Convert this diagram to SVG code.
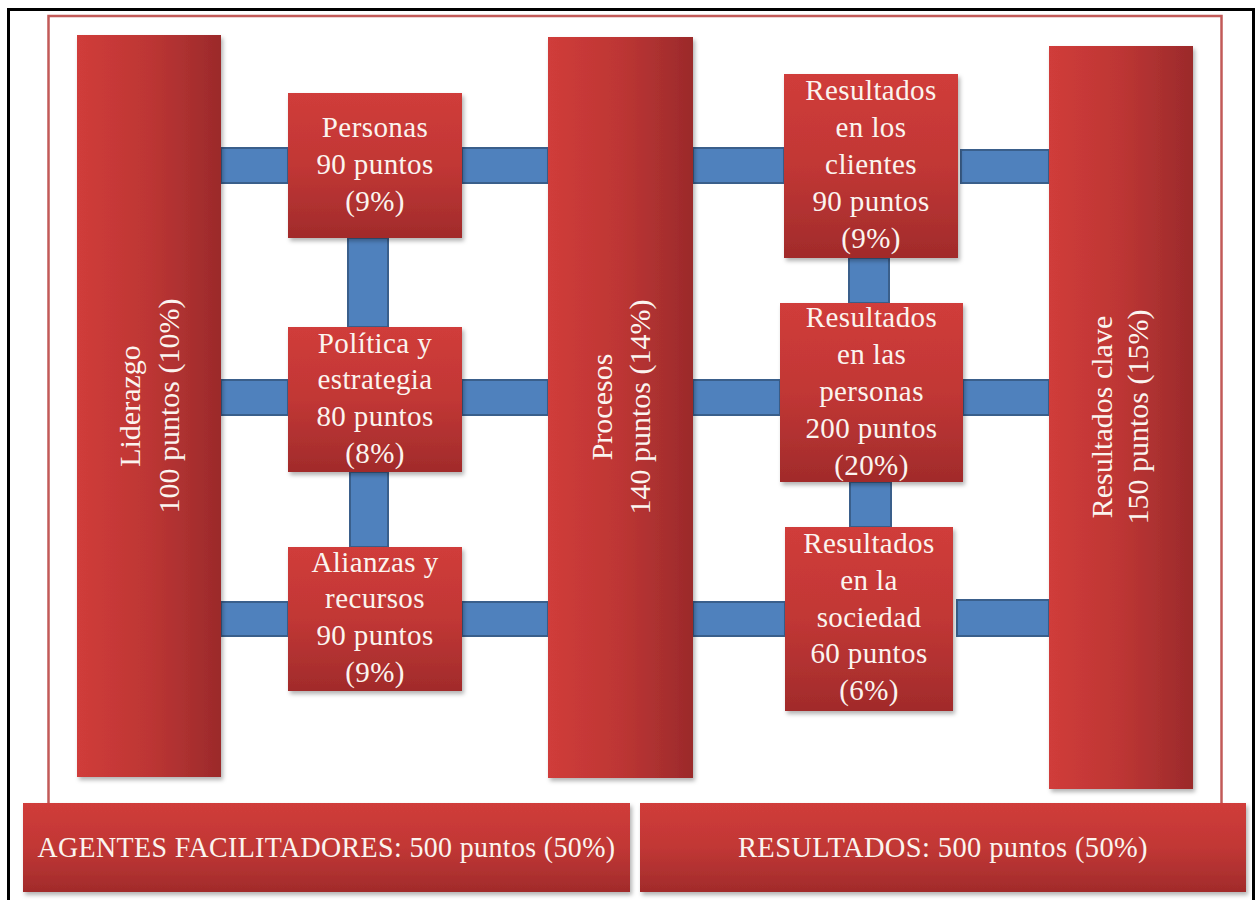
<svg xmlns="http://www.w3.org/2000/svg" width="1256" height="900" viewBox="0 0 1256 900">
  <defs>
    <linearGradient id="gBar" x1="0" y1="0" x2="1" y2="0">
      <stop offset="0" stop-color="#d03c3a"/>
      <stop offset="0.5" stop-color="#bd3634"/>
      <stop offset="1" stop-color="#9b2a2b"/>
    </linearGradient>
    <linearGradient id="gBox" x1="0" y1="0" x2="0" y2="1">
      <stop offset="0" stop-color="#d03c3a"/>
      <stop offset="0.5" stop-color="#c13735"/>
      <stop offset="1" stop-color="#a12b2b"/>
    </linearGradient>
    <filter id="shadow" x="-10%" y="-10%" width="130%" height="130%">
      <feDropShadow dx="2" dy="3" stdDeviation="2" flood-color="#000" flood-opacity="0.3"/>
    </filter>
    <style>
      .bar { fill: url(#gBar); filter: url(#shadow); }
      .box { fill: url(#gBox); filter: url(#shadow); }
      .link { fill: #4f81bd; stroke: #3a5f8b; stroke-width: 2; }
      .lbl { font-family: "Liberation Serif", "Times New Roman", serif; font-size: 29px; letter-spacing: 0.4px; fill: #fbf4ef; text-anchor: middle; }
      .vlbl { font-family: "Liberation Serif", "Times New Roman", serif; font-size: 30px; fill: #fbf4ef; text-anchor: middle; }
    </style>
  </defs>

  <rect x="0" y="0" width="1256" height="900" fill="#ffffff"/>

  <!-- outer border -->
  <path d="M8.5 902 V9.5 H1253.5 V902" fill="none" stroke="#000" stroke-width="3"/>
  <!-- inner frame, open at the bottom where the summary bars sit -->
  <path d="M48.5 803 V16 H1221.5 V803" fill="none" stroke="#c25a58" stroke-width="2.5"/>

  <!-- connectors -->
  <g id="connectors">
    <rect class="link" x="221" y="148" width="67" height="35"/>
    <rect class="link" x="462" y="148" width="86" height="35"/>
    <rect class="link" x="693" y="148" width="91" height="35"/>
    <rect class="link" x="961" y="150" width="88" height="33"/>

    <rect class="link" x="221" y="380" width="67" height="35"/>
    <rect class="link" x="462" y="380" width="86" height="35"/>
    <rect class="link" x="693" y="380" width="87" height="35"/>
    <rect class="link" x="963" y="380" width="86" height="35"/>

    <rect class="link" x="221" y="602" width="67" height="34"/>
    <rect class="link" x="462" y="602" width="86" height="34"/>
    <rect class="link" x="693" y="602" width="92" height="34"/>
    <rect class="link" x="957" y="600" width="92" height="36"/>

    <rect class="link" x="348" y="238" width="40" height="89"/>
    <rect class="link" x="350" y="472" width="38" height="75"/>
    <rect class="link" x="849" y="258" width="40" height="45"/>
    <rect class="link" x="850" y="482" width="41" height="45"/>
  </g>

  <!-- tall columns -->
  <g id="liderazgo">
    <rect class="bar" x="77" y="35" width="144" height="742"/>
    <g transform="translate(149 406) rotate(-90)">
      <text class="vlbl" x="0" y="-9">Liderazgo</text>
      <text class="vlbl" x="0" y="30">100 puntos (10%)</text>
    </g>
  </g>

  <g id="procesos">
    <rect class="bar" x="548" y="37" width="145" height="741"/>
    <g transform="translate(620.5 407) rotate(-90)">
      <text class="vlbl" x="0" y="-9">Procesos</text>
      <text class="vlbl" x="0" y="29">140 puntos (14%)</text>
    </g>
  </g>

  <g id="resultados-clave">
    <rect class="bar" x="1049" y="46" width="144" height="743"/>
    <g transform="translate(1121 417) rotate(-90)">
      <text class="vlbl" x="0" y="-9">Resultados clave</text>
      <text class="vlbl" x="0" y="27">150 puntos (15%)</text>
    </g>
  </g>

  <!-- enabler boxes -->
  <g id="personas">
    <rect class="box" x="288" y="93" width="174" height="145"/>
    <text class="lbl" x="375" y="137">Personas</text>
    <text class="lbl" x="375" y="174">90 puntos</text>
    <text class="lbl" x="375" y="211">(9%)</text>
  </g>

  <g id="politica">
    <rect class="box" x="288" y="327" width="174" height="145"/>
    <text class="lbl" x="375" y="353">Política y</text>
    <text class="lbl" x="375" y="389">estrategia</text>
    <text class="lbl" x="375" y="426">80 puntos</text>
    <text class="lbl" x="375" y="463">(8%)</text>
  </g>

  <g id="alianzas">
    <rect class="box" x="288" y="547" width="174" height="144"/>
    <text class="lbl" x="375" y="572">Alianzas y</text>
    <text class="lbl" x="375" y="608">recursos</text>
    <text class="lbl" x="375" y="645">90 puntos</text>
    <text class="lbl" x="375" y="682">(9%)</text>
  </g>

  <!-- result boxes -->
  <g id="res-clientes">
    <rect class="box" x="784" y="74" width="174" height="184"/>
    <text class="lbl" x="871" y="100">Resultados</text>
    <text class="lbl" x="871" y="137">en los</text>
    <text class="lbl" x="871" y="174">clientes</text>
    <text class="lbl" x="871" y="211">90 puntos</text>
    <text class="lbl" x="871" y="248">(9%)</text>
  </g>

  <g id="res-personas">
    <rect class="box" x="780" y="303" width="183" height="179"/>
    <text class="lbl" x="871.5" y="327">Resultados</text>
    <text class="lbl" x="871.5" y="364">en las</text>
    <text class="lbl" x="871.5" y="401">personas</text>
    <text class="lbl" x="871.5" y="438">200 puntos</text>
    <text class="lbl" x="871.5" y="475">(20%)</text>
  </g>

  <g id="res-sociedad">
    <rect class="box" x="785" y="527" width="168" height="184"/>
    <text class="lbl" x="869" y="553">Resultados</text>
    <text class="lbl" x="869" y="590">en la</text>
    <text class="lbl" x="869" y="627">sociedad</text>
    <text class="lbl" x="869" y="663">60 puntos</text>
    <text class="lbl" x="869" y="700">(6%)</text>
  </g>

  <!-- bottom summary bars -->
  <g id="agentes">
    <rect class="box" x="23" y="803" width="607" height="89"/>
    <text class="lbl" x="326.5" y="857" textLength="578" lengthAdjust="spacingAndGlyphs">AGENTES FACILITADORES: 500 puntos (50%)</text>
  </g>

  <g id="resultados">
    <rect class="box" x="640" y="803" width="606" height="89"/>
    <text class="lbl" x="943" y="857" textLength="410" lengthAdjust="spacingAndGlyphs">RESULTADOS: 500 puntos (50%)</text>
  </g>
</svg>
